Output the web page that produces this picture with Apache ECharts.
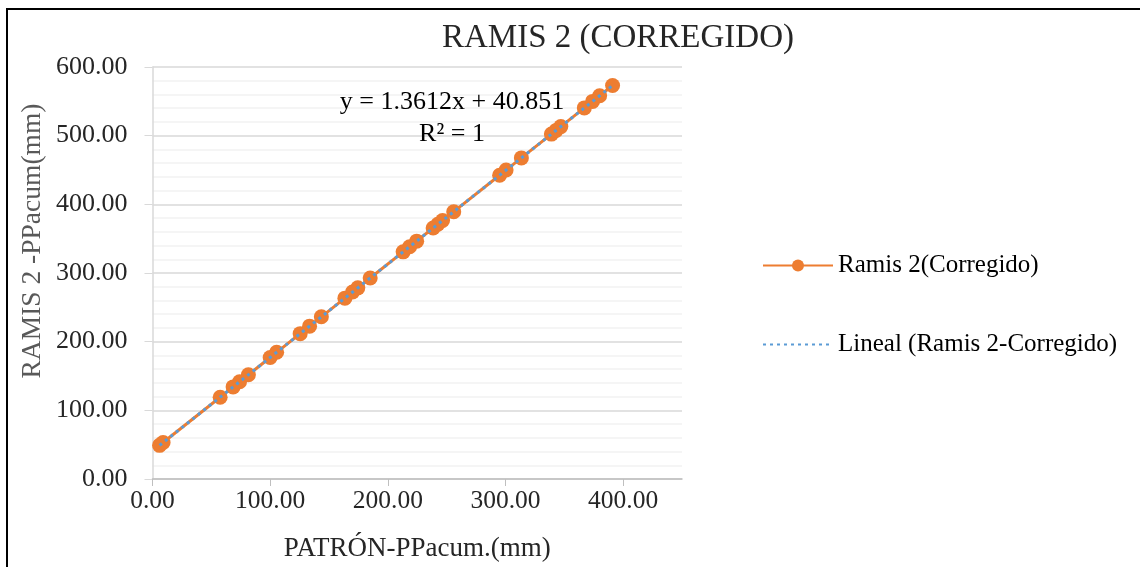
<!DOCTYPE html>
<html>
<head>
<meta charset="utf-8">
<script src="https://cdn.jsdelivr.net/npm/echarts@6/dist/echarts.min.js"></script>
<style>
html,body{margin:0;padding:0;background:#fff;}
#chart{width:1140px;height:567px;}
</style>
</head>
<body>
<div id="chart"></div>
<script>
// Data
var patronX = [6, 9, 57.5, 68.5, 74, 81.5, 100, 105.5, 125.5, 133.5, 143.5, 163.5, 170, 174.5, 185,
  213, 218.5, 224.5, 238.5, 242.5, 246.5, 256, 295, 300.5, 313.5, 339, 343, 347, 367, 374, 380, 391];
var ramisY = [49.0, 53.1, 119.1, 134.1, 141.6, 151.8, 177.0, 184.5, 211.7, 222.6, 236.2, 263.4, 272.3, 278.4, 292.7,
  330.8, 338.3, 346.4, 365.5, 370.9, 376.4, 389.3, 442.4, 449.9, 467.6, 502.3, 507.7, 513.2, 540.4, 549.9, 558.1, 573.1];
var trendSlope = 1.3612;
var trendIntercept = 40.851;
var seriesNames = ['Ramis 2(Corregido)', 'Lineal (Ramis 2-Corregido)'];
var titleText = 'RAMIS 2 (CORREGIDO)';
var xAxisTitle = 'PATRÓN-PPacum.(mm)';
var yAxisTitle = 'RAMIS 2 -PPacum(mm)';
var equationLines = ['y = 1.3612x + 40.851', 'R² = 1'];

var pts = patronX.map(function (x, i) { return [x, ramisY[i]]; });
var xMin = Math.min.apply(null, patronX), xMax = Math.max.apply(null, patronX);
var trendPts = [[xMin, trendSlope * xMin + trendIntercept], [xMax, trendSlope * xMax + trendIntercept]];

var FONT = 'Liberation Serif';
var chart = echarts.init(document.getElementById('chart'), null, {renderer: 'canvas'});
chart.setOption({
  backgroundColor: '#fff',
  animation: false,
  title: {
    text: titleText, left: 613, top: 17, textAlign: 'center',
    textStyle: {fontFamily: FONT, fontSize: 33, fontWeight: 'normal', color: '#262626'}
  },
  grid: {left: 152.5, top: 67, width: 529.5, height: 412, containLabel: false},
  legend: {
    orient: 'vertical', left: 757, top: 248, itemWidth: 70, itemHeight: 15, itemGap: 54,
    textStyle: {fontFamily: FONT, fontSize: 25, color: '#000'},
    data: [
      {name: seriesNames[0]},
      {name: seriesNames[1], itemStyle: {opacity: 0}}
    ]
  },
  xAxis: {
    type: 'value', min: 0, max: 450, interval: 100,
    name: xAxisTitle, nameLocation: 'middle', nameGap: 56,
    nameTextStyle: {fontFamily: FONT, fontSize: 27, color: '#262626'},
    axisLine: {show: true, lineStyle: {color: '#BFBFBF', width: 1.5}},
    axisTick: {show: true, length: 7, lineStyle: {color: '#BFBFBF'}},
    axisLabel: {fontFamily: FONT, fontSize: 25.5, color: '#262626', margin: 9,
      formatter: function (v) { return v.toFixed(2); }},
    splitLine: {show: false}
  },
  yAxis: {
    type: 'value', min: 0, max: 600, interval: 100,
    name: yAxisTitle, nameLocation: 'middle', nameGap: 106, nameRotate: 90,
    nameTextStyle: {fontFamily: FONT, fontSize: 27.5, color: '#595959', padding: [0, 0, 0, 64]},
    axisLine: {show: true, lineStyle: {color: '#D9D9D9', width: 1.5}},
    axisTick: {show: true, length: 8, lineStyle: {color: '#D9D9D9'}},
    axisLabel: {fontFamily: FONT, fontSize: 26, color: '#262626', margin: 25,
      formatter: function (v) { return v.toFixed(2); }},
    splitLine: {show: true, lineStyle: {color: '#D9D9D9', width: 1.5}},
    minorTick: {show: false, splitNumber: 5},
    minorSplitLine: {show: true, lineStyle: {color: '#F2F2F2', width: 1.5}}
  },
  series: [
    {
      name: seriesNames[0], type: 'line', data: pts,
      symbol: 'circle', symbolSize: 15, showSymbol: true,
      itemStyle: {color: '#ED7D31'},
      lineStyle: {color: '#ED7D31', width: 3},
      z: 2
    },
    {
      name: seriesNames[1], type: 'line', data: trendPts,
      symbol: 'none',
      itemStyle: {color: '#5B9BD5'},
      lineStyle: {color: '#5B9BD5', width: 3, type: [3, 4]},
      z: 5
    }
  ],
  graphic: [
    {type: 'rect', shape: {x: 7, y: 9, width: 1150, height: 580}, style: {fill: null, stroke: '#000', lineWidth: 2}, silent: true},
    {type: 'text', x: 452, y: 102, z: 10, style: {text: equationLines[0], fontFamily: FONT, fontSize: 26, fill: '#000', align: 'center', verticalAlign: 'middle'}},
    {type: 'text', x: 452, y: 134, z: 10, style: {text: equationLines[1], fontFamily: FONT, fontSize: 26, fill: '#000', align: 'center', verticalAlign: 'middle'}}
  ]
});
</script>
</body>
</html>
